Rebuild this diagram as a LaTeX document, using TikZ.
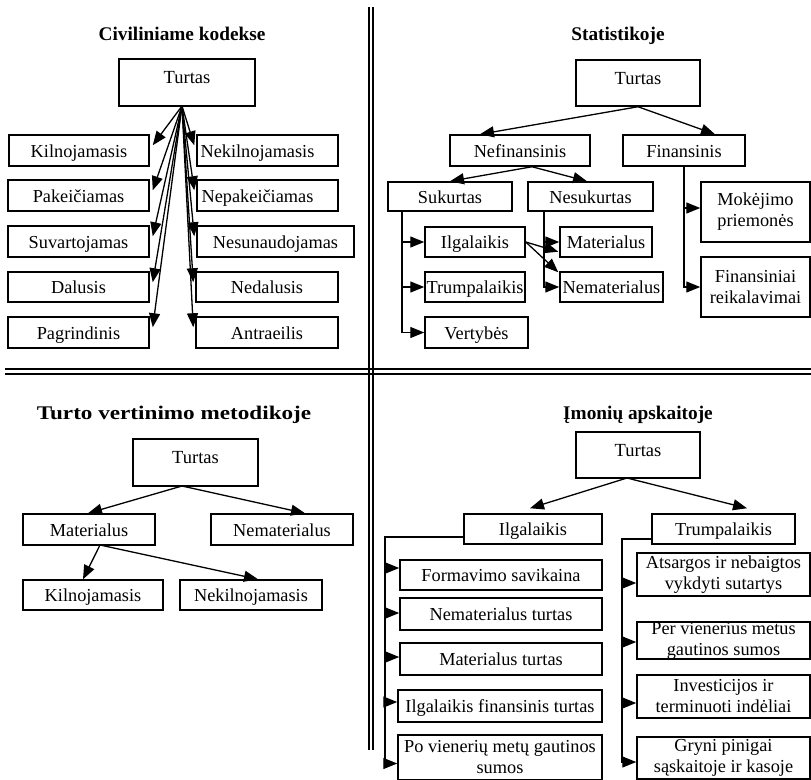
\documentclass[tikz,border=0pt]{standalone}
\usepackage{fontspec}
\setmainfont{Liberation Serif}
\usetikzlibrary{arrows.meta,calc}
\newcommand\bfs{\fontsize{18.3}{21}\selectfont}
\newcommand\tfs{\fontsize{18.5}{21}\selectfont}
\newcommand\hfs{\fontsize{19.3}{22}\selectfont\bfseries}
\newcommand\bx[7]{\node[#1, minimum width={#5pt-#3pt}, minimum height={#6pt-#4pt}] (#2) at ({(#3+#5)/2},{(#4+#6)/2}) {#7};}
\begin{document}
\begin{tikzpicture}[x=1pt,y=-1pt,
 box/.style={draw,line width=1.5pt,inner sep=0pt,text height=13pt,text depth=0pt,font=\bfs},
 mbox/.style={draw,line width=1.5pt,inner sep=0pt,align=center,font=\bfs},
 tbox/.style={draw,line width=1.5pt,inner sep=0pt,text height=24pt,text depth=22pt,font=\tfs},
 ttl/.style={anchor=base,inner sep=0pt,font=\hfs},
 arr/.style={-{Triangle[length=14pt,width=11pt]},line width=1.3pt},
 ln/.style={line width=1.3pt},
 dv/.style={line width=2pt}]
\useasboundingbox (0,0) rectangle (811,779);
\clip (0,0) rectangle (811,779);
% dividers
\draw[dv] (368.5,7) -- (368.5,750);
\draw[dv] (372.5,7) -- (372.5,750);
\draw[dv] (5,369) -- (811,369);
\draw[dv] (5,373.5) -- (811,373.5);

% ---- Q1
\node[ttl] (h1) at (182,40) {Civiliniame kodekse};
\bx{tbox}{t1}{119}{59}{255}{106}{Turtas}
\coordinate (a1) at (182,106);
\bx{box}{c1}{9}{135}{149}{166}{Kilnojamasis}
\bx{box}{c2}{8}{180}{149}{211}{Pakeičiamas}
\bx{box}{c3}{8}{226}{149}{257}{Suvartojamas}
\bx{box}{c4}{8}{272}{149}{302}{Dalusis}
\bx{box}{c5}{8}{317}{149}{348}{Pagrindinis}
\bx{box}{d1}{197}{135}{338}{166}{Nekilnojamasis\hspace*{20pt}}
\bx{box}{d2}{197}{180}{338}{211}{Nepakeičiamas\hspace*{20pt}}
\bx{box}{d3}{197}{226}{354}{257}{Nesunaudojamas}
\bx{box}{d4}{196}{272}{338}{302}{Nedalusis}
\bx{box}{d5}{196}{317}{338}{348}{Antraeilis}
\foreach \n in {c1,c2,c3,c4,c5} {\draw[arr] (a1) -- ($(\n.north east)+(3,11)$);}
\foreach \n in {d1,d2,d3,d4,d5} {\draw[arr] (a1) -- ($(\n.north west)+(-2,11)$);}

% ---- Q2
\node[ttl] (h2) at (618,40) {Statistikoje};
\bx{tbox}{t2}{576}{60}{700}{106}{Turtas}
\bx{box}{nef}{450}{135}{590}{166}{Nefinansinis}
\bx{box}{fin}{623}{135}{745}{166}{Finansinis}
\draw[arr] (t2.south) -- ($(nef.north)+(-40,0)$);
\draw[arr] (t2.south) -- ($(fin.north)+(31,0)$);
\bx{box}{suk}{388}{182}{512}{211}{Sukurtas}
\bx{box}{nes}{528}{182}{653}{211}{Nesukurtas}
\draw[arr] ($(nef.south)+(12,0)$) -- (suk.north);
\draw[arr] ($(nef.south)+(12,0)$) -- ($(nes.north)+(-3.5,0)$);
\bx{box}{ilg}{425}{227}{525}{257}{Ilgalaikis}
\bx{box}{trp}{425}{272}{525}{302}{Trumpalaikis}
\bx{box}{ver}{425}{317}{528}{348}{Vertybės}
\coordinate (sb) at (402,211);
\draw[arr] (sb) |- (ver.west);
\draw[arr] (sb |- ilg.west) -- (ilg.west);
\draw[arr] (sb |- trp.west) -- (trp.west);
\bx{box}{mat}{560}{227}{652}{257}{Materialus}
\bx{box}{nem}{560}{272}{663}{302}{Nematerialus}
\coordinate (nb) at (544,211);
\draw[arr] (nb) |- (nem.west);
\draw[arr] (nb |- mat.west) -- (mat.west);
\draw[arr] (ilg.east) -- ($(mat.south west)+(-1,-6)$);
\draw[arr] (ilg.east) -- ($(nem.north west)+(-1,1)$);
\bx{mbox}{mok}{701}{182}{810}{242}{Mokėjimo\\priemonės}
\bx{mbox}{frk}{701}{257}{810}{317}{Finansiniai\\reikalavimai}
\draw[arr] (fin.south) |- (frk.west);
\path (mok.west) ++(0,-4) coordinate (mka);
\draw[arr] (fin.south |- mka) -- (mka);

% ---- Q3
\node[ttl] (h3) at (174,419) {\scalebox{1.2}[1]{Turto vertinimo metodikoje}};
\bx{tbox}{t3}{133}{439}{258}{486}{Turtas}
\coordinate (a3) at (182,486);
\bx{box}{m3}{23}{514}{155}{545}{Materialus}
\bx{box}{n3}{211}{514}{353}{545}{Nematerialus}
\draw[arr] (a3) -- ($(m3.north)+(-1,0)$);
\draw[arr] (a3) -- ($(n3.north)+(23,0)$);
\bx{box}{k3}{23}{580}{163}{610}{Kilnojamasis}
\bx{box}{nk3}{180}{580}{322}{610}{Nekilnojamasis}
\coordinate (b3) at (100,545);
\draw[arr] (b3) -- ($(k3.north)+(-10,0)$);
\draw[arr] (b3) -- ($(nk3.north)+(7,0)$);

% ---- Q4
\node[ttl] (h4) at (638,419) {Įmonių apskaitoje};
\bx{tbox}{t4}{576}{432}{700}{478}{Turtas}
\coordinate (a4) at (627,478);
\bx{box}{il4}{464}{514}{602}{544}{Ilgalaikis}
\bx{box}{tr4}{652}{514}{795}{544}{Trumpalaikis}
\draw[arr] (a4) -- ($(il4.north)+(-3,-5)$);
\draw[arr] (a4) -- ($(tr4.north)+(23.5,-5)$);
\bx{box}{f1}{400}{560}{602}{590}{Formavimo savikaina}
\bx{box}{f2}{400}{598}{602}{630}{Nematerialus turtas}
\bx{box}{f3}{400}{643}{602}{675}{Materialus turtas}
\bx{box}{f4}{398}{690}{602}{722}{Ilgalaikis finansinis turtas}
\bx{mbox}{f5}{398}{735}{602}{780}{Po vienerių metų gautinos\\sumos}
\coordinate (ib) at (385,537);
\path (f1.west) ++(0,-7) coordinate (f1a);
\path (f2.west) ++(0,-1) coordinate (f2a);
\path (f3.west) ++(0,-2) coordinate (f3a);
\path (f4.west) ++(0,-4) coordinate (f4a);
\path (f5.west) ++(0,6) coordinate (f5a);
\draw[arr] (il4.west |- ib) -- (ib) |- (f5a);
\foreach \n in {f1a,f2a,f3a,f4a} {\draw[arr] (ib |- \n) -- (\n);}
\bx{mbox}{g1}{637}{553}{810}{596}{Atsargos ir nebaigtos\\vykdyti sutartys}
\bx{mbox}{g2}{637}{622}{810}{659}{Per vienerius metus\\gautinos sumos}
\bx{mbox}{g3}{637}{675}{810}{718}{Investicijos ir\\terminuoti indėliai}
\bx{mbox}{g4}{637}{737}{810}{779}{Gryni pinigai\\sąskaitoje ir kasoje}
\coordinate (tb) at (622,539);
\path (g1.west) ++(0,8.5) coordinate (g1a);
\path (g2.west) ++(0,1.5) coordinate (g2a);
\path (g3.west) ++(0,6.5) coordinate (g3a);
\path (g4.west) ++(0,4) coordinate (g4a);
\draw[arr] (tr4.west |- tb) -- (tb) |- (g4a);
\foreach \n in {g1a,g2a,g3a} {\draw[arr] (tb |- \n) -- (\n);}
\end{tikzpicture}
\end{document}
